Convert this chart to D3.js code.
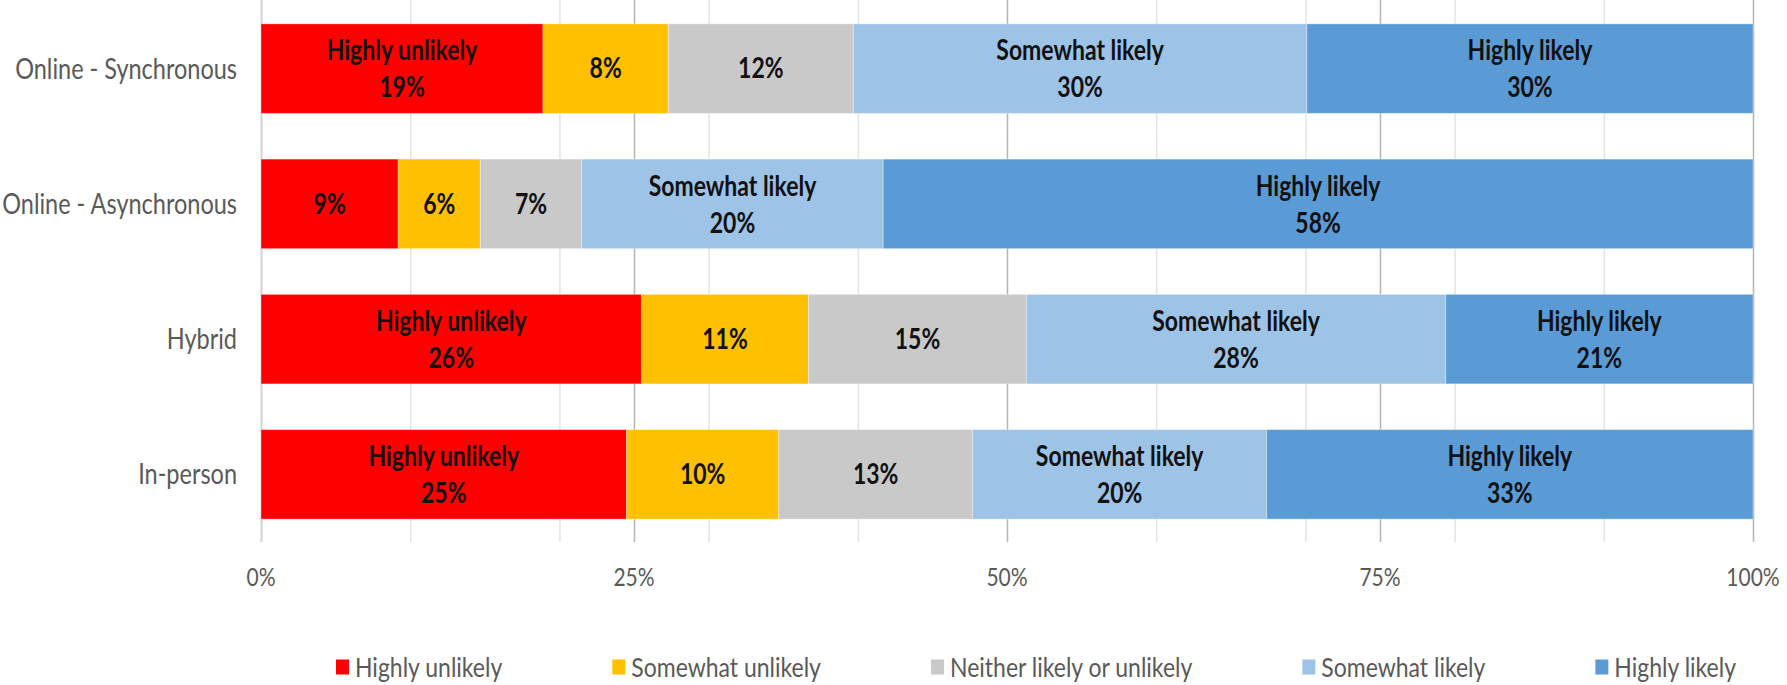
<!DOCTYPE html>
<html>
<head>
<meta charset="utf-8">
<script src="https://cdn.jsdelivr.net/npm/d3@7"></script>
<style>
  body { margin: 0; background: #fff; }
  svg { display: block; }
</style>
</head>
<body>
<script>
// data (percent of respondents)
const categories = ["Online - Synchronous", "Online - Asynchronous", "Hybrid", "In-person"];
const seriesNames = ["Highly unlikely", "Somewhat unlikely", "Neither likely or unlikely", "Somewhat likely", "Highly likely"];
const highlyUnlikely   = [18.9, 9.2, 25.5, 24.5];
const somewhatUnlikely = [8.4, 5.5, 11.2, 10.2];
const neither          = [12.4, 6.8, 14.6, 13.0];
const somewhatLikely   = [30.4, 20.2, 28.1, 19.7];
const highlyLikely     = [29.9, 58.3, 20.6, 32.6];
const tickValues = [0, 25, 50, 75, 100];
const tickLabels = ["0%", "25%", "50%", "75%", "100%"];

const colors = ["#ff0000", "#ffc000", "#c9c9c9", "#9dc3e6", "#5b9bd5"];
const font = "Lato, 'Open Sans', sans-serif";
const stretch = 1.2; // the source picture is a bit taller than wide

const width = 1787, height = 685;
const margin = {left: 261, right: 34, top: 1, bottom: 143};

const svg = d3.select("body").append("svg")
    .attr("width", width)
    .attr("height", height)
    .style("font-family", font);

// place a text at (px, py) with the vertical stretch
function put(sel, px, py) {
  sel.attr("x", 0).attr("y", 0).attr("dy", "0.35em")
     .attr("transform", (d, i) => `translate(${typeof px === "function" ? px(d, i) : px},${typeof py === "function" ? py(d, i) : py}) scale(1,${stretch})`);
  return sel;
}

// build rows for the stack
const allSeries = [highlyUnlikely, somewhatUnlikely, neither, somewhatLikely, highlyLikely];
const rows = categories.map((c, i) => {
  const r = {cat: c};
  seriesNames.forEach((s, j) => r[s] = allSeries[j][i]);
  return r;
});
const stacked = d3.stack().keys(seriesNames)(rows);

const x = d3.scaleLinear().domain([0, 100]).range([margin.left, width - margin.right]);
const y = d3.scaleBand().domain(categories)
    .range([margin.top, height - margin.bottom])
    .padding(0.338).paddingOuter(0.169);

// gridlines
const grid = svg.append("g");
grid.selectAll("line.minor")
  .data(d3.range(10, 100, 10).filter(v => v % 25 !== 0))
  .join("line")
    .attr("x1", d => x(d) + 0.5).attr("x2", d => x(d) + 0.5)
    .attr("y1", 0).attr("y2", height - margin.bottom)
    .attr("stroke", "#e4e4e4").attr("stroke-width", 1.5);
grid.selectAll("line.major")
  .data(tickValues)
  .join("line")
    .attr("x1", d => x(d) + 0.5).attr("x2", d => x(d) + 0.5)
    .attr("y1", 0).attr("y2", height - margin.bottom)
    .attr("stroke", d => d === 0 ? "#d4d4d4" : "#b4b4b4").attr("stroke-width", d => d === 0 ? 2 : 1.5);

// bars
const layer = svg.append("g").selectAll("g")
  .data(stacked)
  .join("g")
    .attr("fill", (d, i) => colors[i]);

layer.selectAll("rect")
  .data(d => d)
  .join("rect")
    .attr("x", d => x(d[0]))
    .attr("y", d => y(d.data.cat))
    .attr("width", d => x(d[1]) - x(d[0]))
    .attr("height", y.bandwidth())
    .attr("stroke", "#ffffff").attr("stroke-opacity", 0.35).attr("stroke-width", 1);

// data labels: series name on top when it fits, then the value
const labels = svg.append("g")
    .attr("font-weight", "bold")
    .attr("font-size", "23px")
    .attr("fill", "#111")
    .attr("text-anchor", "middle");

stacked.forEach(s => {
  s.forEach(d => {
    const cx = (x(d[0]) + x(d[1])) / 2;
    const cy = y(d.data.cat) + y.bandwidth() / 2;
    const segW = x(d[1]) - x(d[0]);
    const name = put(labels.append("text").text(s.key), cx, cy - 18);
    const fits = name.node().getComputedTextLength() + 16 < segW;
    if (!fits) name.remove();
    put(labels.append("text").text(Math.round(d[1] - d[0]) + "%"), cx, fits ? cy + 19 : cy);
  });
});

// category axis
put(svg.append("g").selectAll("text")
  .data(categories)
  .join("text")
    .attr("text-anchor", "end")
    .attr("font-size", "23.5px")
    .attr("fill", "#595959")
    .text(d => d), 237, d => y(d) + y.bandwidth() / 2);

// value axis labels
put(svg.append("g").selectAll("text")
  .data(tickValues)
  .join("text")
    .attr("text-anchor", "middle")
    .attr("font-size", "21px")
    .attr("fill", "#595959")
    .text((d, i) => tickLabels[i]), d => x(d), 577);

// legend
const legend = svg.append("g").attr("font-size", "23px").attr("fill", "#595959");
const items = legend.selectAll("g")
  .data(seriesNames)
  .join("g");
items.append("rect")
    .attr("width", 13).attr("height", 15)
    .attr("y", -7.5)
    .attr("fill", (d, i) => colors[i]);
put(items.append("text").text(d => d), 19, 0);

let cursor = 0;
const offsets = [];
items.each(function() {
  offsets.push(cursor);
  cursor += 19 + d3.select(this).select("text").node().getComputedTextLength() + 110;
});
const total = cursor - 110;
const startX = 1036 - total / 2;
items.attr("transform", (d, i) => `translate(${startX + offsets[i]},667)`);
</script>
</body>
</html>
